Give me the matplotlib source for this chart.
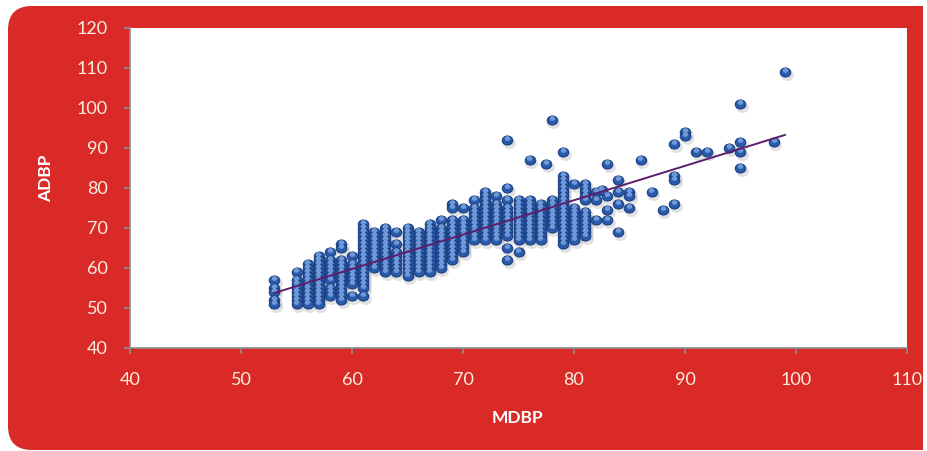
import numpy as np
import matplotlib
matplotlib.use('Agg')
import matplotlib.pyplot as plt
from matplotlib.patches import FancyBboxPatch, Rectangle
from matplotlib.path import Path
from matplotlib import transforms

# MDBP columns and the ADBP readings recorded at each one
MDBP_COLS = [53, 55, 56, 57, 58, 59, 60, 61, 62, 63, 64, 65, 66, 67, 68, 69,
             70, 71, 72, 73, 74, 75, 76, 77, 78, 79, 80, 81, 82, 83, 84, 85,
             86, 87, 88, 89, 90, 91, 92, 94, 95, 98, 99]
ADBP_COLS = [
    [57, 55, 54, 52, 51],
    [59, 57, 56, 55, 54, 53, 52, 51],
    [61, 60, 59, 58, 57, 56, 55, 54, 53, 52, 51],
    [63, 62, 61, 60, 59, 58, 57, 56, 55, 54, 53, 52, 51],
    [64, 62, 61, 60, 59, 58, 57, 55, 54, 53],
    [66, 65, 62, 61, 60, 59, 58, 57, 56, 55, 54, 53, 52],
    [63, 61, 60, 59, 58, 57, 56, 53],
    [71, 70, 69, 68, 67, 66, 65, 64, 63, 62, 61, 60, 59, 58, 57, 56, 55, 53],
    [69, 68, 67, 66, 65, 64, 63, 62, 61, 60],
    [70, 69, 68, 67, 66, 65, 64, 63, 62, 61, 60, 59],
    [69, 66, 64, 63, 62, 61, 60, 59],
    [70, 69, 68, 67, 66, 65, 64, 63, 62, 61, 60, 59, 58],
    [69, 68, 67, 66, 65, 64, 63, 62, 61, 60, 59],
    [71, 70, 69, 68, 67, 66, 65, 64, 63, 62, 61, 60, 59],
    [72, 70, 69, 68, 67, 66, 65, 64, 63, 62, 61, 60],
    [76, 75, 72, 71, 70, 69, 68, 67, 66, 65, 64, 63, 62],
    [75, 72, 71, 70, 69, 68, 67, 66, 65, 64],
    [77, 75, 74, 73, 72, 71, 70, 69, 68, 67],
    [79, 78, 77, 76, 75, 74, 73, 72, 71, 70, 69, 68, 67],
    [78, 76, 75, 74, 73, 72, 71, 70, 69, 68, 67],
    [92, 80, 77, 75, 74, 73, 72, 71, 70, 69, 68, 65, 62],
    [77, 76, 75, 74, 73, 72, 71, 70, 69, 68, 67, 64],
    [87, 77, 76, 75, 74, 73, 72, 71, 70, 69, 68, 67],
    [76, 75, 74, 73, 72, 71, 70, 69, 68, 67],
    [97, 77, 76, 75, 74, 73, 72, 71, 70],
    [89, 83, 82, 81, 80, 79, 78, 77, 76, 75, 74, 73, 72, 71, 70, 69, 68, 67, 66],
    [81, 75, 74, 73, 72, 71, 70, 69, 68, 67],
    [81, 80, 79, 78, 77, 74, 73, 72, 71, 70, 69, 68],
    [79, 77, 72],
    [86, 78, 74.5, 72],
    [82, 79, 76, 69],
    [79, 78, 75],
    [87],
    [79],
    [74.5],
    [91, 83, 82, 76],
    [94, 93],
    [89],
    [89],
    [90],
    [101, 91.5, 89, 85],
    [91.5],
    [109],
]
# readings that fall between the integer columns
MDBP_EXTRA = [77.5, 82.5]
ADBP_EXTRA = [86, 79.5]

# least-squares trend line, ADBP = a * MDBP + b
TREND_A = 0.859
TREND_B = 8.22
TREND_X = [53, 99]

X_TICKS = [40, 50, 60, 70, 80, 90, 100, 110]
Y_TICKS = [40, 50, 60, 70, 80, 90, 100, 110, 120]

RED = '#d92a27'
TXT = '#fbeee0'
FONT = ['Lato', 'DejaVu Sans']

mdbp = []
adbp = []
for xv, ys in zip(MDBP_COLS, ADBP_COLS):
    mdbp += [xv] * len(ys)
    adbp += ys
mdbp = np.array(mdbp + MDBP_EXTRA, dtype=float)
adbp = np.array(adbp + ADBP_EXTRA, dtype=float)

fig = plt.figure(figsize=(9.28, 4.51), dpi=100)
fig.patch.set_facecolor('white')

# red panel with rounded left corners
panel = FancyBboxPatch((0.08, 0.01), 9.15, 4.44,
                       boxstyle='round,pad=0,rounding_size=0.24',
                       transform=fig.dpi_scale_trans,
                       facecolor=RED, edgecolor='none', zorder=0)
fig.add_artist(panel)
fig.add_artist(Rectangle((4.6, 0.01), 4.63, 4.44,
                         transform=fig.dpi_scale_trans,
                         facecolor=RED, edgecolor='none', zorder=0))

ax = fig.add_axes([130 / 928, 103 / 451, 777 / 928, 320 / 451])
ax.set_facecolor('white')

# rounded bead marker
circ = Path.unit_circle()
bead = Path(circ.vertices * np.array([1.0, 0.86]), circ.codes)

shadow_tr = transforms.offset_copy(ax.transData, fig=fig, x=1.2, y=-2.2,
                                   units='points')
ax.scatter(mdbp, adbp, s=85, marker=bead, color='#4a4a5a', alpha=0.16,
           linewidths=0, transform=shadow_tr, zorder=2)
ax.scatter(mdbp, adbp, s=58, marker=bead, color='#2a5bab',
           edgecolors='#163a7c', linewidths=0.7, zorder=3)
hl_tr = transforms.offset_copy(ax.transData, fig=fig, x=-0.2, y=1.2,
                               units='points')
ax.scatter(mdbp, adbp, s=16, marker=bead, color='#86aee6', alpha=0.75,
           linewidths=0, transform=hl_tr, zorder=4)

tx = np.array(TREND_X, dtype=float)
ax.plot(tx, TREND_A * tx + TREND_B, color='#5b1f6e', lw=1.4, zorder=5)

ax.set_xlim(40, 110)
ax.set_ylim(40, 120)
ax.set_xticks(X_TICKS)
ax.set_yticks(Y_TICKS)

for side in ('top', 'right'):
    ax.spines[side].set_visible(False)
for side in ('left', 'bottom'):
    ax.spines[side].set_color('#8c8c8c')
    ax.spines[side].set_linewidth(1.2)

ax.tick_params(axis='x', direction='out', length=4, width=1.2,
               color='#8c8c8c', pad=13, labelsize=13, labelcolor=TXT)
ax.tick_params(axis='y', direction='out', length=4, width=1.2,
               color='#8c8c8c', pad=12, labelsize=13, labelcolor=TXT)
for lab in ax.get_xticklabels() + ax.get_yticklabels():
    lab.set_family(FONT)

fig.text(517 / 928, 1 - 418 / 451, 'MDBP', color='white', fontsize=12.5,
         fontweight='bold', ha='center', va='center', family=FONT)
fig.text(46 / 928, 1 - 178 / 451, 'ADBP', color='white', fontsize=12.5,
         fontweight='bold', ha='center', va='center', rotation=90,
         family=FONT)

fig.savefig('out.png', dpi=100)
plt.close(fig)
